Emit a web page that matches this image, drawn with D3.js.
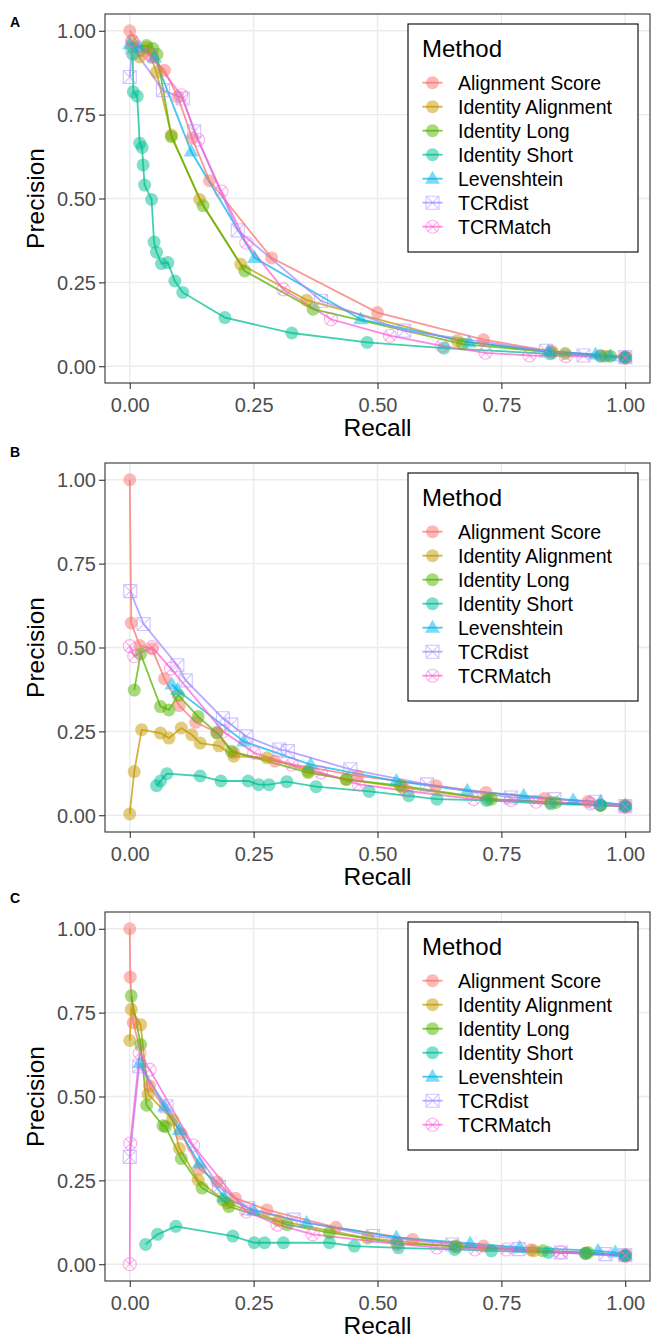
<!DOCTYPE html>
<html>
<head>
<meta charset="utf-8">
<script src="https://cdn.jsdelivr.net/npm/d3@7"></script>
<style>
  body { margin: 0; background: #fff; }
  text { font-family: "Liberation Sans", Arial, sans-serif; }
</style>
</head>
<body>
<svg id="fig" width="654" height="1339"></svg>
<script>
// methods, colours and shapes of the legend
var methods = ["Alignment Score", "Identity Alignment", "Identity Long", "Identity Short",
               "Levenshtein", "TCRdist", "TCRMatch"];
var colors = ["#F8766D", "#C49A00", "#53B400", "#00C094", "#00B6EB", "#A58AFF", "#FB61D7"];
var shapes = ["circle", "circle", "circle", "circle", "triangle", "squarex", "circlex"];
var tickValues = [0, 0.25, 0.5, 0.75, 1];
var tickLabels = ["0.00", "0.25", "0.50", "0.75", "1.00"];
var panelNames = ["A", "B", "C"];

// panel A  [recall, precision]
var a_alignScore = [[0, 1.0], [0.026, 0.94], [0.045, 0.92], [0.07, 0.882], [0.097, 0.803], [0.126, 0.68],
  [0.161, 0.553], [0.286, 0.323], [0.5, 0.16], [0.714, 0.079], [0.85, 0.045], [0.95, 0.032], [1.0, 0.027]];
var a_identAlign = [[0.005, 0.97], [0.02, 0.922], [0.035, 0.95], [0.054, 0.877], [0.084, 0.689],
  [0.141, 0.497], [0.224, 0.304], [0.357, 0.197], [0.661, 0.076], [0.853, 0.042], [0.96, 0.03], [1.0, 0.027]];
var a_identLong = [[0.005, 0.95], [0.034, 0.956], [0.047, 0.947], [0.055, 0.93], [0.084, 0.684],
  [0.148, 0.479], [0.232, 0.284], [0.37, 0.17], [0.672, 0.066], [0.879, 0.038], [0.97, 0.03], [1.0, 0.027]];
var a_identShort = [[0.006, 0.93], [0.007, 0.818], [0.015, 0.805], [0.02, 0.665], [0.025, 0.652],
  [0.027, 0.6], [0.03, 0.54], [0.044, 0.497], [0.049, 0.37], [0.054, 0.34], [0.064, 0.306], [0.077, 0.309],
  [0.091, 0.254], [0.107, 0.22], [0.192, 0.145], [0.327, 0.099], [0.479, 0.071], [0.634, 0.054],
  [0.849, 0.037], [0.95, 0.03], [1.0, 0.027]];
var a_leven = [[0, 0.96], [0.02, 0.95], [0.05, 0.92], [0.124, 0.64], [0.252, 0.323], [0.466, 0.14],
  [0.685, 0.071], [0.845, 0.045], [0.94, 0.035], [0.97, 0.03], [1.0, 0.027]];
var a_tcrdist = [[0, 0.862], [0.005, 0.95], [0.067, 0.823], [0.107, 0.798], [0.13, 0.7], [0.218, 0.405],
  [0.386, 0.195], [0.554, 0.106], [0.84, 0.046], [0.916, 0.032], [1.0, 0.027]];
var a_tcrmatch = [[0.005, 0.97], [0.04, 0.93], [0.104, 0.808], [0.138, 0.675], [0.185, 0.521],
  [0.235, 0.368], [0.31, 0.229], [0.406, 0.14], [0.525, 0.091], [0.63, 0.061], [0.718, 0.04],
  [0.807, 0.032], [0.88, 0.03], [1.0, 0.025]];

// panel B
var b_alignScore = [[0, 1.0], [0.003, 0.573], [0.02, 0.506], [0.045, 0.496], [0.07, 0.407], [0.1, 0.327],
  [0.133, 0.277], [0.176, 0.247], [0.21, 0.186], [0.293, 0.161], [0.46, 0.117], [0.618, 0.088],
  [0.719, 0.068], [0.837, 0.05], [0.925, 0.041], [1.0, 0.03]];
var b_identAlign = [[0, 0.004], [0.009, 0.13], [0.024, 0.255], [0.062, 0.245], [0.079, 0.23], [0.104, 0.26],
  [0.125, 0.24], [0.142, 0.215], [0.18, 0.207], [0.21, 0.176], [0.277, 0.171], [0.36, 0.132],
  [0.437, 0.107], [0.55, 0.083], [0.723, 0.048], [0.849, 0.038], [0.95, 0.03], [1.0, 0.027]];
var b_identLong = [[0.009, 0.373], [0.022, 0.481], [0.062, 0.324], [0.079, 0.314], [0.098, 0.358],
  [0.138, 0.294], [0.176, 0.245], [0.205, 0.191], [0.36, 0.127], [0.437, 0.107], [0.546, 0.088],
  [0.73, 0.048], [0.86, 0.038], [0.95, 0.03], [1.0, 0.027]];
var b_identShort = [[0.054, 0.088], [0.062, 0.102], [0.075, 0.124], [0.142, 0.117], [0.184, 0.102],
  [0.239, 0.102], [0.26, 0.091], [0.281, 0.091], [0.317, 0.1], [0.376, 0.085], [0.483, 0.071],
  [0.563, 0.058], [0.62, 0.048], [0.72, 0.044], [0.85, 0.034], [0.95, 0.03], [1.0, 0.027]];
var b_leven = [[0.085, 0.39], [0.096, 0.373], [0.23, 0.22], [0.365, 0.151], [0.538, 0.102], [0.681, 0.073],
  [0.795, 0.058], [0.895, 0.045], [0.95, 0.04], [1.0, 0.03]];
var b_tcrdist = [[0.001, 0.668], [0.028, 0.57], [0.096, 0.447], [0.113, 0.402], [0.188, 0.289],
  [0.205, 0.27], [0.235, 0.235], [0.302, 0.196], [0.319, 0.191], [0.445, 0.137], [0.6, 0.092],
  [0.769, 0.053], [0.857, 0.048], [0.94, 0.04], [1.0, 0.027]];
var b_tcrmatch = [[0, 0.504], [0.009, 0.474], [0.045, 0.501], [0.083, 0.437], [0.188, 0.25], [0.251, 0.186],
  [0.327, 0.151], [0.386, 0.127], [0.462, 0.092], [0.558, 0.073], [0.694, 0.048], [0.77, 0.045],
  [0.82, 0.04], [0.93, 0.035], [1.0, 0.025]];

// panel C
var c_alignScore = [[0, 1.0], [0.001, 0.856], [0.007, 0.72], [0.04, 0.531], [0.104, 0.389], [0.141, 0.284],
  [0.176, 0.246], [0.213, 0.197], [0.277, 0.162], [0.416, 0.11], [0.571, 0.074], [0.714, 0.054],
  [0.81, 0.043], [0.92, 0.032], [1.0, 0.027]];
var c_identAlign = [[0, 0.667], [0.003, 0.76], [0.022, 0.714], [0.037, 0.507], [0.086, 0.431], [0.1, 0.345],
  [0.138, 0.251], [0.197, 0.182], [0.3, 0.13], [0.48, 0.078], [0.66, 0.052], [0.815, 0.04], [0.92, 0.032],
  [1.0, 0.027]];
var c_identLong = [[0.003, 0.8], [0.022, 0.655], [0.034, 0.474], [0.067, 0.413], [0.072, 0.41],
  [0.104, 0.315], [0.146, 0.227], [0.188, 0.192], [0.2, 0.172], [0.318, 0.118], [0.403, 0.094],
  [0.54, 0.062], [0.657, 0.054], [0.834, 0.04], [0.925, 0.035], [1.0, 0.027]];
var c_identShort = [[0.032, 0.059], [0.056, 0.089], [0.093, 0.113], [0.208, 0.084], [0.251, 0.064],
  [0.272, 0.064], [0.31, 0.064], [0.403, 0.064], [0.453, 0.054], [0.542, 0.049], [0.656, 0.044],
  [0.73, 0.04], [0.845, 0.035], [0.92, 0.033], [1.0, 0.025]];
var c_leven = [[0.02, 0.6], [0.07, 0.47], [0.1, 0.4], [0.14, 0.3], [0.19, 0.2], [0.25, 0.16], [0.357, 0.123],
  [0.538, 0.08], [0.687, 0.062], [0.787, 0.05], [0.945, 0.04], [0.98, 0.035], [1.0, 0.027]];
var c_tcrdist = [[0, 0.32], [0.019, 0.59], [0.074, 0.471], [0.18, 0.231], [0.239, 0.167], [0.331, 0.133],
  [0.491, 0.084], [0.651, 0.059], [0.785, 0.045], [0.87, 0.035], [0.96, 0.03], [1.0, 0.027]];
var c_tcrmatch = [[0, 0], [0.001, 0.36], [0.02, 0.63], [0.04, 0.58], [0.128, 0.354], [0.235, 0.157],
  [0.298, 0.118], [0.369, 0.089], [0.54, 0.06], [0.62, 0.05], [0.697, 0.044], [0.76, 0.044],
  [0.87, 0.035], [1.0, 0.025]];

var panelData = [
  [a_alignScore, a_identAlign, a_identLong, a_identShort, a_leven, a_tcrdist, a_tcrmatch],
  [b_alignScore, b_identAlign, b_identLong, b_identShort, b_leven, b_tcrdist, b_tcrmatch],
  [c_alignScore, c_identAlign, c_identLong, c_identShort, c_leven, c_tcrdist, c_tcrmatch]
];

var svg = d3.select("#fig");
var panelTops = [14, 463, 912];
var labelYs = [27, 457, 903];
var left = 105, right = 650, ph = 369;

// draw one marker
function drawShape(g, shape, x, y, color) {
  if (shape == "circle") {
    g.append("circle").attr("cx", x).attr("cy", y).attr("r", 6.5)
      .attr("fill", color).attr("fill-opacity", 0.5);
  } else if (shape == "triangle") {
    g.append("path")
      .attr("d", "M" + x + "," + (y - 8) + "L" + (x + 7.5) + "," + (y + 5) + "L" + (x - 7.5) + "," + (y + 5) + "Z")
      .attr("fill", color).attr("fill-opacity", 0.5);
  } else if (shape == "squarex") {
    var s = 6.5;
    g.append("path")
      .attr("d", "M" + (x - s) + "," + (y - s) + "h" + 2 * s + "v" + 2 * s + "h" + (-2 * s) + "Z" +
        "M" + (x - s) + "," + (y - s) + "L" + (x + s) + "," + (y + s) +
        "M" + (x + s) + "," + (y - s) + "L" + (x - s) + "," + (y + s))
      .attr("fill", "none").attr("stroke", color).attr("stroke-opacity", 0.5).attr("stroke-width", 1.1);
  } else {
    var r = 6.5, d = 4.6;
    g.append("circle").attr("cx", x).attr("cy", y).attr("r", r)
      .attr("fill", "none").attr("stroke", color).attr("stroke-opacity", 0.5).attr("stroke-width", 1.1);
    g.append("path")
      .attr("d", "M" + (x - d) + "," + (y - d) + "L" + (x + d) + "," + (y + d) +
        "M" + (x + d) + "," + (y - d) + "L" + (x - d) + "," + (y + d))
      .attr("fill", "none").attr("stroke", color).attr("stroke-opacity", 0.5).attr("stroke-width", 1.1);
  }
}

panelData.forEach(function(series, p) {
  var top = panelTops[p];
  var x = d3.scaleLinear().domain([-0.05, 1.05]).range([left, right]);
  var y = d3.scaleLinear().domain([-0.05, 1.05]).range([top + ph, top]);
  var g = svg.append("g");

  // grid
  tickValues.forEach(function(t) {
    g.append("line").attr("x1", x(t)).attr("x2", x(t)).attr("y1", top).attr("y2", top + ph)
      .attr("stroke", "#EBEBEB").attr("stroke-width", 1.4);
    g.append("line").attr("x1", left).attr("x2", right).attr("y1", y(t)).attr("y2", y(t))
      .attr("stroke", "#EBEBEB").attr("stroke-width", 1.4);
  });

  // lines then points
  var line = d3.line().x(function(d) { return x(d[0]); }).y(function(d) { return y(d[1]); });
  series.forEach(function(s, i) {
    g.append("path").datum(s).attr("d", line).attr("fill", "none")
      .attr("stroke", colors[i]).attr("stroke-opacity", 0.75).attr("stroke-width", 1.8);
  });
  series.forEach(function(s, i) {
    s.forEach(function(d) { drawShape(g, shapes[i], x(d[0]), y(d[1]), colors[i]); });
  });

  // border
  g.append("rect").attr("x", left).attr("y", top).attr("width", right - left).attr("height", ph)
    .attr("fill", "none").attr("stroke", "#333333").attr("stroke-width", 1.1);

  // axes
  var xAxis = d3.axisBottom(x).tickValues(tickValues).tickFormat(function(d, i) { return tickLabels[i]; })
    .tickSize(6).tickSizeOuter(0);
  var yAxis = d3.axisLeft(y).tickValues(tickValues).tickFormat(function(d, i) { return tickLabels[i]; })
    .tickSize(6).tickSizeOuter(0);
  var xa = g.append("g").attr("transform", "translate(0," + (top + ph) + ")").call(xAxis);
  var ya = g.append("g").attr("transform", "translate(" + left + ",0)").call(yAxis);
  [xa, ya].forEach(function(a) {
    a.select(".domain").remove();
    a.selectAll(".tick line").attr("stroke", "#333333").attr("stroke-width", 1.1);
    a.selectAll(".tick text").attr("fill", "#4D4D4D").style("font-size", "20px")
      .style("font-family", "'Liberation Sans', Arial, sans-serif");
  });
  xa.selectAll(".tick text").attr("dy", null).attr("y", 29);
  ya.selectAll(".tick text").attr("dy", "0.36em").attr("x", -9);

  // titles
  g.append("text").attr("x", (left + right) / 2).attr("y", top + ph + 53).attr("text-anchor", "middle")
    .style("font-size", "24.5px").text("Recall");
  g.append("text").attr("transform", "translate(44," + (top + ph / 2) + ") rotate(-90)")
    .attr("text-anchor", "middle").style("font-size", "24.5px").text("Precision");
  g.append("text").attr("x", 10).attr("y", labelYs[p]).style("font-size", "14px")
    .style("font-weight", "bold").text(panelNames[p]);

  // legend
  var lx = 408, ly = top + 10;
  var lg = g.append("g");
  lg.append("rect").attr("x", lx).attr("y", ly).attr("width", 230).attr("height", 228)
    .attr("fill", "#fff").attr("stroke", "#000").attr("stroke-width", 1.1);
  lg.append("text").attr("x", lx + 14).attr("y", ly + 33).style("font-size", "24px").text("Method");
  methods.forEach(function(m, i) {
    var cy = ly + 58.7 + i * 24;
    var cx = lx + 24.5;
    lg.append("line").attr("x1", cx - 10).attr("x2", cx + 10).attr("y1", cy).attr("y2", cy)
      .attr("stroke", colors[i]).attr("stroke-opacity", 0.75).attr("stroke-width", 1.8);
    drawShape(lg, shapes[i], cx, cy, colors[i]);
    lg.append("text").attr("x", lx + 50).attr("y", cy + 7).style("font-size", "19.5px").text(m);
  });
});
</script>
</body>
</html>
